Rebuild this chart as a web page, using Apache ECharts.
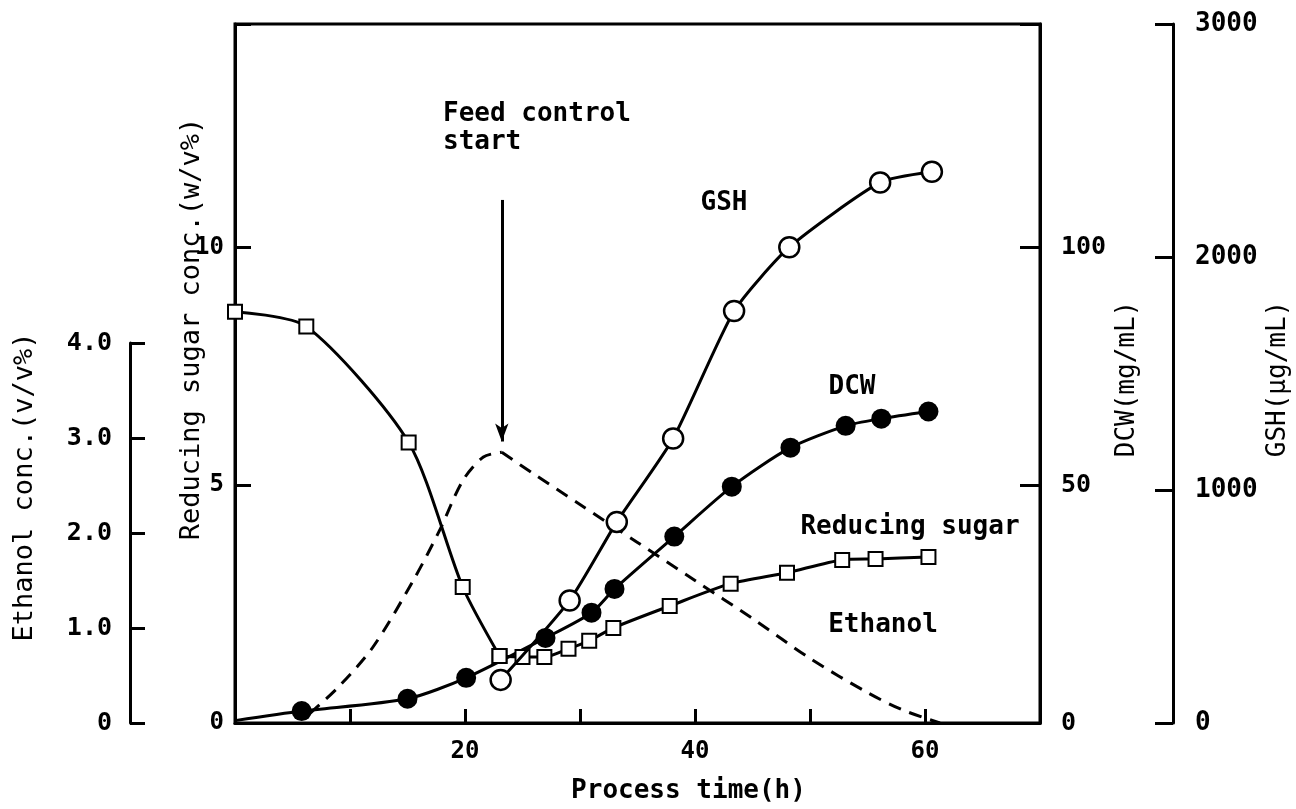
<!DOCTYPE html>
<html>
<head>
    <meta charset="utf-8">
    <title>Fed-batch culture: reducing sugar, ethanol, DCW and GSH</title>
    <script src="https://cdn.jsdelivr.net/npm/echarts@6/dist/echarts.min.js"></script>
    <style>
        html, body { margin: 0; padding: 0; background: #fff; }
        #main { width: 1296px; height: 809px; }
    </style>
</head>
<body>
<div id="main"></div>
<script type="text/javascript">
    // values, process time in h
    var sugarBatchTime = [0, 6.2, 15.1, 19.8, 23.0];
    var sugarBatch = [8.65, 8.34, 5.9, 2.86, 1.41];
    var sugarFedTime = [23.0, 25.0, 26.9, 29.0, 30.8, 32.9, 37.8, 43.1, 48.0, 52.8, 55.7, 60.3];
    var sugarFed = [1.41, 1.39, 1.39, 1.56, 1.73, 2.0, 2.46, 2.93, 3.16, 3.43, 3.45, 3.49];

    var dcwTime = [0, 5.8, 15.0, 20.1, 27.0, 31.0, 33.0, 38.2, 43.2, 48.3, 53.1, 56.2, 60.3];
    var dcw = [0.5, 2.5, 5.1, 9.5, 17.9, 23.2, 28.2, 39.2, 49.7, 57.9, 62.5, 64.0, 65.5];

    var gshTime = [23.1, 29.1, 33.2, 38.1, 43.4, 48.2, 56.1, 60.6];
    var gsh = [185, 526, 863, 1221, 1768, 2042, 2320, 2366];

    var ethanolRiseTime = [6.5, 9, 12, 15.5, 17.8, 19.8, 21.6, 23.2];
    var ethanolRise = [0.1, 0.38, 0.8, 1.5, 2.03, 2.55, 2.8, 2.85];
    var ethanolFallTime = [23.2, 26, 30, 35, 40, 45, 50, 55, 58, 61.3];
    var ethanolFall = [2.85, 2.62, 2.3, 1.9, 1.5, 1.1, 0.68, 0.32, 0.14, 0];

    // feed control start arrow (time, sugar-axis from/to)
    var feedStart = 23.2;
    var arrowFrom = 11.0;
    var arrowTo = 5.92;

    var FONT = '"DejaVu Sans Mono", "Liberation Mono", monospace';

    function pairs(xs, ys) {
        return xs.map(function (x, i) { return [x, ys[i]]; });
    }

    var myChart = echarts.init(document.getElementById('main'));

    var axisLine = { show: true, onZero: false, lineStyle: { color: '#000', width: 3 } };
    function ticks(len) {
        return { show: true, inside: true, length: len, lineStyle: { color: '#000', width: 3 } };
    }
    function labels(margin, size, fmt) {
        return { margin: margin, color: '#000', fontSize: size, fontFamily: FONT,
                 fontWeight: 'bold', formatter: fmt || function (v) { return String(v); } };
    }

    var curve = { color: '#000', width: 3 };

    var dcwData = pairs(dcwTime, dcw);
    dcwData[0] = { value: dcwData[0], symbol: 'none' };   // curve starts at origin, no marker

    var option = {
        animation: false,
        backgroundColor: '#fff',
        grid: [
            { left: 235, right: 256, top: 24, bottom: 86, show: true, borderColor: '#000', borderWidth: 3 },
            // ethanol axis only runs 0 - 4.0
            { left: 235, right: 256, top: 343, bottom: 86 }
        ],
        xAxis: [{
            gridIndex: 0, type: 'value', min: 0, max: 70, interval: 10,
            axisLine: axisLine, axisTick: ticks(14), splitLine: { show: false },
            axisLabel: labels(17, 24, function (v) { return (v % 20 === 0 && v > 0 && v < 70) ? String(v) : ''; }),
            name: 'Process time(h)', nameLocation: 'middle', nameGap: 55,
            nameTextStyle: { color: '#000', fontSize: 26, fontFamily: FONT, fontWeight: 'bold', padding: [0, 0, 0, 102] }
        }, {
            gridIndex: 1, type: 'value', min: 0, max: 70, show: false
        }],
        yAxis: [{
            // reducing sugar (w/v%)
            gridIndex: 0, type: 'value', position: 'left', min: 0, max: 14.7, interval: 5,
            axisLine: axisLine, axisTick: ticks(16), splitLine: { show: false },
            axisLabel: labels(11, 24, function (v) { return v % 5 === 0 ? String(v) : ''; })
        }, {
            // DCW (mg/mL)
            gridIndex: 0, type: 'value', position: 'right', min: 0, max: 147, interval: 50,
            axisLine: axisLine, axisTick: ticks(20), splitLine: { show: false },
            axisLabel: labels(21, 25, function (v) { return v % 50 === 0 ? String(v) : ''; })
        }, {
            // GSH (ug/mL)
            gridIndex: 0, type: 'value', position: 'right', offset: 133, min: 0, max: 3000, interval: 1000,
            axisLine: axisLine, axisTick: ticks(18), splitLine: { show: false },
            axisLabel: labels(22, 26)
        }, {
            // ethanol (v/v%)
            gridIndex: 1, type: 'value', position: 'left', offset: 105, min: 0, max: 4, interval: 1,
            axisLine: axisLine, axisTick: ticks(15), splitLine: { show: false },
            axisLabel: labels(18, 25, function (v) { return v === 0 ? '0' : v.toFixed(1); })
        }],
        series: [{
            name: 'Reducing sugar (batch)', type: 'line', xAxisIndex: 0, yAxisIndex: 0,
            data: pairs(sugarBatchTime, sugarBatch), smooth: 0.25,
            symbol: 'rect', symbolSize: 14,
            itemStyle: { color: '#fff', borderColor: '#000', borderWidth: 2 },
            lineStyle: curve, z: 4,
            markLine: {
                silent: true, symbol: ['none', 'arrow'], symbolSize: [10, 18],
                label: { show: false },
                lineStyle: { color: '#000', width: 3, type: 'solid' },
                data: [[{ coord: [feedStart, arrowFrom] }, { coord: [feedStart, arrowTo] }]]
            }
        }, {
            name: 'Reducing sugar (fed)', type: 'line', xAxisIndex: 0, yAxisIndex: 0,
            data: pairs(sugarFedTime, sugarFed), smooth: 0.25,
            symbol: 'rect', symbolSize: 14,
            itemStyle: { color: '#fff', borderColor: '#000', borderWidth: 2 },
            lineStyle: curve, z: 4
        }, {
            name: 'DCW', type: 'line', xAxisIndex: 0, yAxisIndex: 1,
            data: dcwData, smooth: 0.25,
            symbol: 'circle', symbolSize: 20,
            itemStyle: { color: '#000' },
            lineStyle: curve, z: 3
        }, {
            name: 'GSH', type: 'line', xAxisIndex: 0, yAxisIndex: 2,
            data: pairs(gshTime, gsh), smooth: 0.2,
            symbol: 'circle', symbolSize: 20,
            itemStyle: { color: '#fff', borderColor: '#000', borderWidth: 2.5 },
            lineStyle: curve, z: 5
        }, {
            name: 'Ethanol (rise)', type: 'line', xAxisIndex: 1, yAxisIndex: 3,
            data: pairs(ethanolRiseTime, ethanolRise), smooth: 0.3, symbol: 'none',
            lineStyle: { color: '#000', width: 3, type: [13, 9] }, z: 2
        }, {
            name: 'Ethanol (fall)', type: 'line', xAxisIndex: 1, yAxisIndex: 3,
            data: pairs(ethanolFallTime, ethanolFall), smooth: 0.3, symbol: 'none',
            lineStyle: { color: '#000', width: 3, type: [13, 9] }, z: 2
        }],
        graphic: [
            // axis titles
            { type: 'text', x: 192, y: 329, rotation: Math.PI / 2,
              style: { text: 'Reducing sugar conc.(w/v%)', font: '27px ' + FONT, fill: '#000',
                       textAlign: 'center', textVerticalAlign: 'middle', align: 'center', verticalAlign: 'middle' } },
            { type: 'text', x: 25, y: 487, rotation: Math.PI / 2,
              style: { text: 'Ethanol conc.(v/v%)', font: '27px ' + FONT, fill: '#000',
                       textAlign: 'center', textVerticalAlign: 'middle', align: 'center', verticalAlign: 'middle' } },
            { type: 'text', x: 1127, y: 379, rotation: Math.PI / 2,
              style: { text: 'DCW(mg/mL)', font: '26px ' + FONT, fill: '#000',
                       textAlign: 'center', textVerticalAlign: 'middle', align: 'center', verticalAlign: 'middle' } },
            { type: 'text', x: 1278, y: 379, rotation: Math.PI / 2,
              style: { text: 'GSH(μg/mL)', font: '26px ' + FONT, fill: '#000',
                       textAlign: 'center', textVerticalAlign: 'middle', align: 'center', verticalAlign: 'middle' } },
            // in-plot labels
            { type: 'text', x: 443, y: 100,
              style: { text: 'Feed control\nstart', font: 'bold 26px ' + FONT, fill: '#000', lineHeight: 28 } },
            { type: 'text', x: 724, y: 203,
              style: { text: 'GSH', font: 'bold 26px ' + FONT, fill: '#000',
                       textAlign: 'center', textVerticalAlign: 'middle', align: 'center', verticalAlign: 'middle' } },
            { type: 'text', x: 852, y: 387,
              style: { text: 'DCW', font: 'bold 26px ' + FONT, fill: '#000',
                       textAlign: 'center', textVerticalAlign: 'middle', align: 'center', verticalAlign: 'middle' } },
            { type: 'text', x: 910, y: 527,
              style: { text: 'Reducing sugar', font: 'bold 26px ' + FONT, fill: '#000',
                       textAlign: 'center', textVerticalAlign: 'middle', align: 'center', verticalAlign: 'middle' } },
            { type: 'text', x: 883, y: 625,
              style: { text: 'Ethanol', font: 'bold 26px ' + FONT, fill: '#000',
                       textAlign: 'center', textVerticalAlign: 'middle', align: 'center', verticalAlign: 'middle' } }
        ]
    };

    myChart.setOption(option);
</script>
</body>
</html>
